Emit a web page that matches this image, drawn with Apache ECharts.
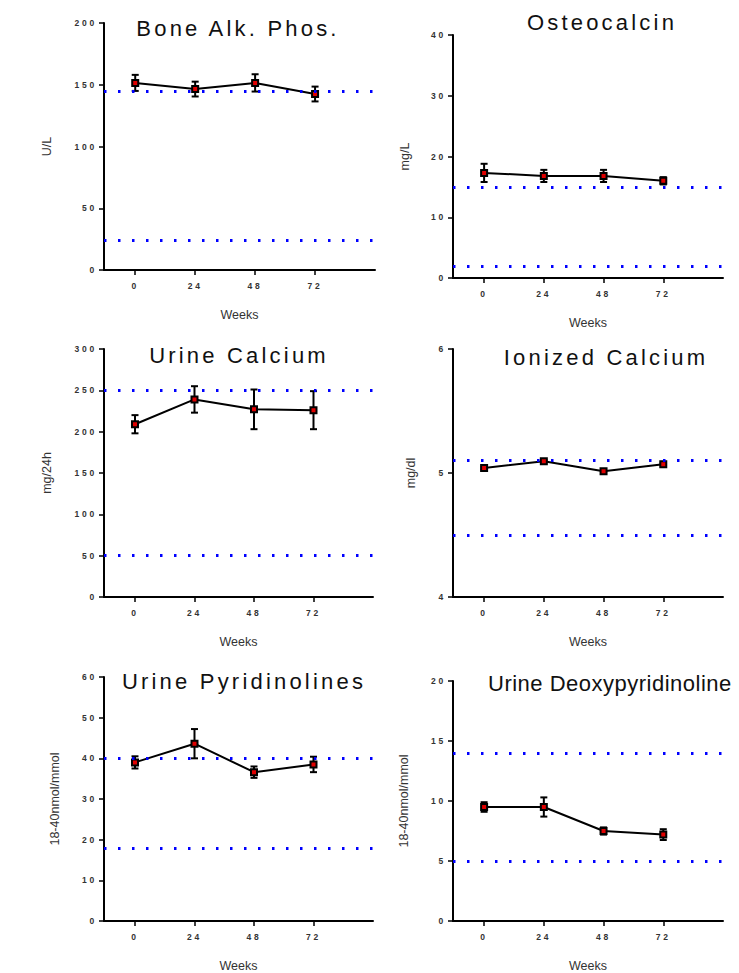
<!DOCTYPE html>
<html lang="en">
<head>
    <meta charset="UTF-8">
    <title>Bone markers</title>
    <script src="https://cdn.jsdelivr.net/npm/echarts@6/dist/echarts.min.js"></script>
    <style>
        body { margin: 0; background: #fff; }
        #main { width: 739px; height: 973px; }
        /* wide letter spacing like the original figure */
        #main text[style*="22px"] { letter-spacing: 3.2px; }
        #main text[style*="Arial"] { letter-spacing: 0.5px; }
        #main text[style*="8.5px"] { letter-spacing: 2.8px; }
    </style>
</head>
<body>
<div id="main"></div>
<script>
    const weeks = [0, 24, 48, 72];

    // Bone Alk. Phos. (U/L)
    const boneAlkMean = [151.5, 146.5, 151.5, 142.5];
    const boneAlkErr = [6.5, 6, 7, 6];
    const boneAlkRef = [24, 145];
    const boneAlkTicks = [0, 50, 100, 150, 200];

    // Osteocalcin (mg/L)
    const osteoMean = [17.3, 16.8, 16.8, 16.0];
    const osteoErr = [1.5, 1.0, 1.0, 0.6];
    const osteoRef = [2, 15];
    const osteoTicks = [0, 10, 20, 30, 40];

    // Urine Calcium (mg/24h)
    const urCaMean = [209, 239, 227, 226];
    const urCaErr = [11, 16, 24, 23];
    const urCaRef = [50, 250];
    const urCaTicks = [0, 50, 100, 150, 200, 250, 300];

    // Ionized Calcium (mg/dl)
    const ionCaMean = [5.04, 5.095, 5.015, 5.07];
    const ionCaErr = [0.01, 0.01, 0.01, 0.01];
    const ionCaRef = [4.5, 5.1];
    const ionCaTicks = [4, 5, 6];

    // Urine Pyridinolines
    const pyrMean = [39.0, 43.6, 36.6, 38.5];
    const pyrErr = [1.5, 3.6, 1.4, 1.9];
    const pyrRef = [18, 40];
    const pyrTicks = [0, 10, 20, 30, 40, 50, 60];

    // Urine Deoxypyridinoline
    const dpdMean = [9.5, 9.5, 7.5, 7.2];
    const dpdErr = [0.4, 0.8, 0.3, 0.45];
    const dpdRef = [5, 14];
    const dpdTicks = [0, 5, 10, 15, 20];

    const panels = [
        {title: 'Bone Alk. Phos.', unit: 'U/L', mean: boneAlkMean, err: boneAlkErr, ref: boneAlkRef, ticks: boneAlkTicks},
        {title: 'Osteocalcin', unit: 'mg/L', mean: osteoMean, err: osteoErr, ref: osteoRef, ticks: osteoTicks},
        {title: 'Urine Calcium', unit: 'mg/24h', mean: urCaMean, err: urCaErr, ref: urCaRef, ticks: urCaTicks},
        {title: 'Ionized Calcium', unit: 'mg/dl', mean: ionCaMean, err: ionCaErr, ref: ionCaRef, ticks: ionCaTicks},
        {title: 'Urine Pyridinolines', unit: '18-40nmol/mmol', mean: pyrMean, err: pyrErr, ref: pyrRef, ticks: pyrTicks},
        {title: 'Urine Deoxypyridinoline', unit: '18-40nmol/mmol', mean: dpdMean, err: dpdErr, ref: dpdRef, ticks: dpdTicks}
    ];

    // grid boxes and title anchors (pixels)
    const layout = [
        {left: 104, top: 23, width: 271, height: 247, tx: 238, ty: 17, align: 'center', gap: 51},
        {left: 453, top: 35, width: 270, height: 243, tx: 602, ty: 11, align: 'center', gap: 41.5},
        {left: 104, top: 349, width: 269, height: 248, tx: 239, ty: 344, align: 'center', gap: 50.5},
        {left: 453, top: 349, width: 270, height: 248, tx: 606, ty: 346, align: 'center', gap: 35.6},
        {left: 104, top: 677, width: 269, height: 246, tx: 244, ty: 670, align: 'center', gap: 43},
        {left: 453, top: 681, width: 270, height: 244, tx: 488, ty: 672, align: 'left', gap: 42.3, font: 'Arial'}
    ];

    const FONT = 'Liberation Sans';
    const tickFont = {fontFamily: FONT, fontSize: 8.5, fontWeight: 'bold', color: '#333'};

    function errorBar(params, api) {
        const x = api.value(0);
        const lo = api.coord([x, api.value(1)]);
        const hi = api.coord([x, api.value(2)]);
        const w = 3.5;
        const st = {stroke: '#000', lineWidth: 2};
        return {
            type: 'group',
            children: [
                {type: 'line', shape: {x1: lo[0], y1: lo[1], x2: hi[0], y2: hi[1]}, style: st},
                {type: 'line', shape: {x1: hi[0] - w, y1: hi[1], x2: hi[0] + w, y2: hi[1]}, style: st},
                {type: 'line', shape: {x1: lo[0] - w, y1: lo[1], x2: lo[0] + w, y2: lo[1]}, style: st}
            ]
        };
    }

    const option = {
        animation: false,
        backgroundColor: '#fff',
        title: [],
        grid: [],
        xAxis: [],
        yAxis: [],
        series: []
    };

    panels.forEach(function (p, i) {
        const L = layout[i];
        option.title.push({
            text: p.title,
            left: L.tx,
            top: L.ty,
            textAlign: L.align,
            padding: 0,
            textStyle: {fontFamily: L.font || FONT, fontSize: 22, fontWeight: 'normal', color: '#111'}
        });
        option.grid.push({left: L.left, top: L.top, width: L.width, height: L.height});
        option.xAxis.push({
            type: 'value',
            gridIndex: i,
            min: -12.5,
            max: 96,
            name: 'Weeks',
            nameLocation: 'middle',
            nameGap: 38,
            nameTextStyle: {fontFamily: FONT, fontSize: 12.5, color: '#333'},
            axisLine: {onZero: false, lineStyle: {color: '#000', width: 2}},
            axisTick: {length: 5, lineStyle: {color: '#000', width: 1.5}, customValues: weeks},
            axisLabel: Object.assign({margin: 11, customValues: weeks}, tickFont),
            splitLine: {show: false}
        });
        const t = p.ticks;
        option.yAxis.push({
            type: 'value',
            gridIndex: i,
            min: t[0],
            max: t[t.length - 1],
            interval: t[1] - t[0],
            name: p.unit,
            nameLocation: 'middle',
            nameGap: L.gap,
            nameTextStyle: {fontFamily: FONT, fontSize: 12.5, color: '#333'},
            axisLine: {show: true, onZero: false, lineStyle: {color: '#000', width: 2}},
            axisTick: {show: true, length: 5, lineStyle: {color: '#000', width: 1.5}},
            axisLabel: Object.assign({margin: 7}, tickFont),
            splitLine: {show: false}
        });
        option.series.push({
            type: 'custom',
            xAxisIndex: i,
            yAxisIndex: i,
            z: 2,
            silent: true,
            renderItem: errorBar,
            encode: {x: 0, y: [1, 2]},
            data: weeks.map((w, k) => [w, p.mean[k] - p.err[k], p.mean[k] + p.err[k]])
        });
        option.series.push({
            type: 'line',
            xAxisIndex: i,
            yAxisIndex: i,
            z: 3,
            data: weeks.map((w, k) => [w, p.mean[k]]),
            symbol: 'rect',
            symbolSize: 6,
            lineStyle: {color: '#000', width: 2},
            itemStyle: {color: '#e00000', borderColor: '#000', borderWidth: 2},
            markLine: {
                silent: true,
                symbol: 'none',
                label: {show: false},
                lineStyle: {color: '#0000ff', type: [2.5, 11.5], width: 3},
                data: p.ref.map(v => ({yAxis: v}))
            }
        });
    });

    const chart = echarts.init(document.getElementById('main'), null, {renderer: 'svg'});
    chart.setOption(option);
</script>
</body>
</html>
